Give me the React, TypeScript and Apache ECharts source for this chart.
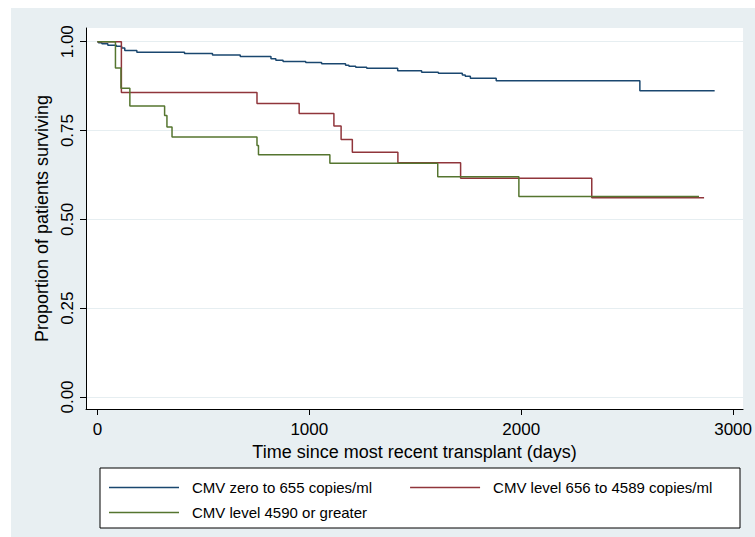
import React, { useEffect, useRef } from "react";
import * as echarts from "echarts";

const seriesNames = [
  "CMV zero to 655 copies/ml",
  "CMV level 656 to 4589 copies/ml",
  "CMV level 4590 or greater",
];
const seriesColors = ["#1a476f", "#90353b", "#55752f"];

const blueDays = [0, 5, 21, 49, 89, 114, 129, 186, 411, 543, 674, 819, 842, 876, 983, 1058, 1171, 1187, 1219, 1271, 1417, 1530, 1609, 1722, 1736, 1760, 1882, 2560, 2913];
const blueSurv = [1.0, 0.997, 0.994, 0.99, 0.987, 0.982, 0.975, 0.97, 0.967, 0.9625, 0.9586, 0.952, 0.948, 0.9445, 0.9417, 0.938, 0.934, 0.931, 0.928, 0.925, 0.918, 0.914, 0.911, 0.906, 0.903, 0.897, 0.89, 0.862, 0.862];

const redDays = [0, 113, 753, 952, 1116, 1150, 1203, 1418, 1714, 2333, 2863];
const redSurv = [1.0, 0.857, 0.826, 0.798, 0.763, 0.725, 0.689, 0.659, 0.616, 0.561, 0.561];

const greenDays = [0, 85, 111, 153, 317, 328, 352, 753, 760, 1097, 1606, 1989, 2839];
const greenSurv = [1.0, 0.926, 0.869, 0.819, 0.792, 0.76, 0.7315, 0.708, 0.682, 0.658, 0.62, 0.564, 0.564];

const xTicks = [0, 1000, 2000, 3000];
const yTicks = [0, 0.25, 0.5, 0.75, 1];

const FONT = "'Liberation Sans', Arial, sans-serif";

function zip(xs: number[], ys: number[]) {
  return xs.map((x, i) => [x, ys[i]]);
}

export default function App() {
  const ref = useRef<HTMLDivElement>(null);
  useEffect(() => {
    if (!ref.current) return;
    const chart = echarts.init(ref.current, null, { renderer: "svg" });
    const dataSets = [zip(blueDays, blueSurv), zip(redDays, redSurv), zip(greenDays, greenSurv)];
    chart.setOption({
      animation: false,
      backgroundColor: "transparent",
      textStyle: { fontFamily: FONT },
      grid: {
        left: 75,
        right: 9,
        top: 20,
        bottom: 128,
        show: true,
        backgroundColor: "#ffffff",
        borderWidth: 0,
      },
      xAxis: {
        type: "value",
        min: -54,
        max: 3047,
        name: "Time since most recent transplant (days)",
        nameLocation: "middle",
        nameGap: 30,
        nameTextStyle: { fontSize: 18, color: "#000", fontFamily: FONT },
        axisLine: { show: true, onZero: false, lineStyle: { color: "#000", width: 1 } },
        axisTick: { show: true, length: 6, customValues: xTicks, lineStyle: { color: "#000" } },
        axisLabel: {
          customValues: xTicks,
          margin: 12,
          fontSize: 17,
          color: "#000",
          fontFamily: FONT,
          formatter: (v: number) => String(v),
        },
        splitLine: { show: false },
      },
      yAxis: {
        type: "value",
        min: -0.0338,
        max: 1.0386,
        name: "Proportion of patients surviving",
        nameLocation: "middle",
        nameGap: 33,
        nameTextStyle: { fontSize: 18, color: "#000", fontFamily: FONT },
        axisLine: { show: true, onZero: false, lineStyle: { color: "#000", width: 1 } },
        axisTick: { show: true, length: 6, customValues: yTicks, lineStyle: { color: "#000" } },
        axisLabel: {
          customValues: yTicks,
          rotate: 90,
          margin: 10,
          fontSize: 17,
          color: "#000",
          fontFamily: FONT,
          formatter: (v: number) => v.toFixed(2),
        },
        splitLine: { show: true, lineStyle: { color: "#e6eef1", width: 1 } },
      },
      legend: [
        {
          data: [seriesNames[0], seriesNames[1]],
          left: 98,
          top: 472,
          orient: "horizontal",
          padding: 0,
          itemGap: 38,
          itemWidth: 70,
          itemHeight: 1.5,
          icon: "rect",
          selectedMode: false,
          textStyle: { fontSize: 15, color: "#000", fontFamily: FONT, padding: [0, 0, 0, 8] },
        },
        {
          data: [seriesNames[2]],
          left: 98,
          top: 497,
          orient: "horizontal",
          padding: 0,
          itemWidth: 70,
          itemHeight: 1.5,
          icon: "rect",
          selectedMode: false,
          textStyle: { fontSize: 15, color: "#000", fontFamily: FONT, padding: [0, 0, 0, 8] },
        },
      ],
      graphic: [
        {
          type: "rect",
          shape: { x: 89, y: 460, width: 640, height: 60 },
          style: { fill: "#ffffff", stroke: "#000000", lineWidth: 1 },
          z: 0,
        },
      ],
      series: dataSets.map((d, i) => ({
        name: seriesNames[i],
        type: "line",
        step: "end",
        data: d,
        symbol: "none",
        showSymbol: false,
        color: seriesColors[i],
        lineStyle: { color: seriesColors[i], width: 1.5 },
        emphasis: { disabled: true },
        silent: true,
      })),
    });
    return () => chart.dispose();
  }, []);
  return (
    <div style={{ position: "absolute", left: 0, top: 0, width: 755, height: 537, background: "#ffffff" }}>
      <div
        ref={ref}
        style={{ position: "absolute", left: 11, top: 8, width: 744, height: 529, background: "#e8eff2" }}
      />
    </div>
  );
}
